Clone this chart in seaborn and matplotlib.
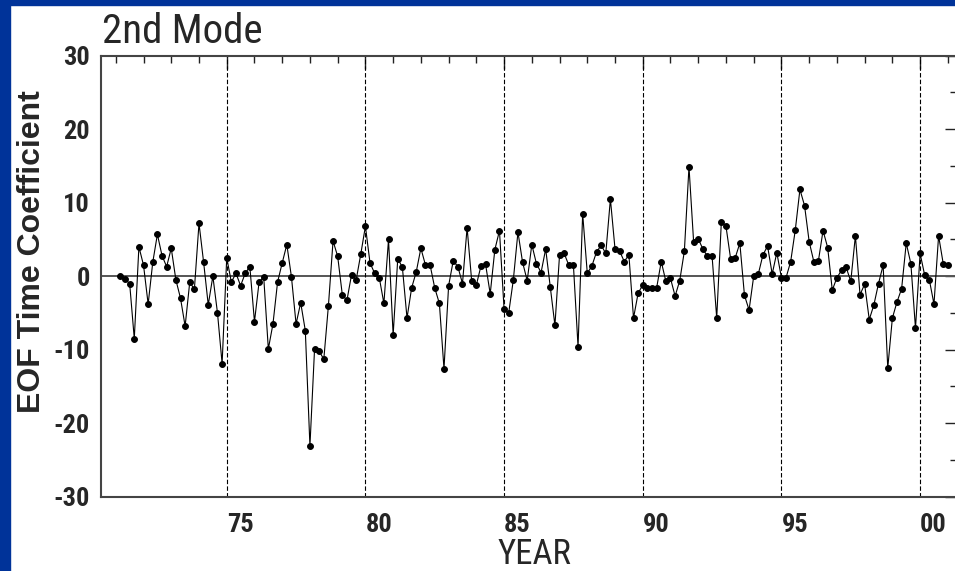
import numpy as np
import pandas as pd
import seaborn as sns
import matplotlib
matplotlib.use("Agg")
import matplotlib.pyplot as plt
from matplotlib import font_manager
from matplotlib.patches import Rectangle

# bimonthly EOF mode-2 time coefficients, Jan/Feb 1971 .. Nov/Dec 2000
coef = [
    0.0, -0.4, -1.0, -8.5, 4.0, 1.5, -3.8, 1.9, 5.7, 2.8, 1.3, 3.8,
    -0.5, -3.0, -6.8, -0.8, -1.8, 7.2, 1.9, -3.9, 0.0, -5.0, -11.9, 2.5,
    -0.8, 0.4, -1.3, 0.4, 1.3, -6.2, -0.8, -0.1, -9.9, -6.5, -0.8, 1.8,
    4.3, -0.1, -6.5, -3.6, -7.4, -23.1, -9.9, -10.2, -11.3, -4.0, 4.8, 2.7,
    -2.5, -3.3, 0.2, -0.5, 3.0, 6.8, 1.8, 0.4, -0.2, -3.7, 5.0, -8.0,
    2.4, 1.2, -5.7, -1.6, 0.6, 3.8, 1.5, 1.5, -1.6, -3.7, -12.6, -1.3,
    2.1, 1.3, -1.0, 6.6, -0.7, -1.2, 1.4, 1.6, -2.4, 3.6, 6.2, -4.5,
    -5.0, -0.5, 6.0, 1.9, -0.6, 4.3, 1.7, 0.5, 3.7, -1.5, -6.7, 2.9,
    3.1, 1.5, 1.5, -9.6, 8.5, 0.4, 1.4, 3.3, 4.2, 3.1, 10.5, 3.7,
    3.4, 2.0, 2.9, -5.7, -2.3, -1.2, -1.6, -1.6, -1.6, 2.0, -0.7, -0.3,
    -2.7, -0.6, 3.4, 14.9, 4.7, 5.1, 3.7, 2.7, 2.7, -5.7, 7.4, 6.8,
    2.4, 2.5, 4.5, -2.6, -4.6, 0.0, 0.3, 2.9, 4.1, 0.3, 3.2, -0.2,
    -0.2, 2.0, 6.3, 11.8, 9.6, 4.7, 2.0, 2.1, 6.2, 3.9, -1.9, -0.2,
    0.8, 1.2, -0.7, 5.5, -2.5, -1.1, -5.9, -3.9, -1.0, 1.5, -12.5, -5.7,
    -3.5, -1.7, 4.5, 1.7, -7.1, 3.1, 0.1, -0.5, -3.8, 5.5, 1.7, 1.5,
]
start_year = 1971
steps_per_year = 6
major_years = [1975, 1980, 1985, 1990, 1995, 2000]
major_labels = ["75", "80", "85", "90", "95", "00"]
y_ticks = [-30, -20, -10, 0, 10, 20, 30]

years = start_year + np.arange(1, len(coef) + 1) / steps_per_year
df = pd.DataFrame({"year": years, "coef": coef})

sns.set_style("white")

# look for a narrow / condensed sans face for the axis numbers
fonts = font_manager.fontManager.ttflist
narrow_family, narrow_stretch = "Liberation Sans", "normal"
for fam in ["Liberation Sans Narrow", "Roboto Condensed", "Open Sans Condensed"]:
    if any(f.name == fam for f in fonts):
        narrow_family = fam
        break
else:
    for fam in ["DejaVu Sans", "Noto Sans", "Roboto", "Open Sans"]:
        if any(f.name == fam and f.stretch in ("condensed", "semi-condensed") for f in fonts):
            narrow_family, narrow_stretch = fam, "condensed"
            break

plt.rcParams["font.family"] = [narrow_family, "DejaVu Sans"]
plt.rcParams["font.stretch"] = narrow_stretch

fig = plt.figure(figsize=(9.55, 5.71), dpi=100)
ax = fig.add_axes([100.7 / 955, 74.3 / 571, 856.3 / 955, 441 / 571])

# blue slide frame
fig.patches.append(Rectangle((0, 0), 10 / 955, 1, transform=fig.transFigure,
                             color="#003399", zorder=-1))
fig.patches.append(Rectangle((0, 1 - 5 / 571), 1, 5 / 571, transform=fig.transFigure,
                             color="#003399", zorder=-1))

ax.axhline(0, color="#555555", lw=1.4, zorder=1)
for yr in major_years:
    ax.axvline(yr, color="black", lw=0.8, ls=(0, (4, 2)), zorder=1)

sns.lineplot(data=df, x="year", y="coef", ax=ax, color="black", lw=0.8,
             marker="o", markersize=4.2, markeredgecolor="black", zorder=3)

ax.set_xlim(1970.456, 2001.33)
ax.set_ylim(-30, 30)
ax.set_xlabel("")
ax.set_ylabel("")

ax.set_xticks(major_years)
ax.set_xticklabels(major_labels, fontweight="bold", fontsize=19)
for lab in ax.get_xticklabels():
    lab.set_ha("left")
ax.set_xticks(np.arange(1971, 2002), minor=True)
ax.set_yticks(y_ticks)
ax.set_yticklabels([str(v) for v in y_ticks], fontweight="bold", fontsize=19)
ax.set_yticks(np.arange(-25, 30, 10), minor=True)

ax.tick_params(axis="x", which="major", direction="out", length=10, width=1,
               color="#222222", pad=2)
ax.tick_params(axis="x", which="minor", direction="inout", length=9.5, width=1,
               color="#222222")
ax.tick_params(axis="y", which="major", direction="in", length=9, width=1,
               color="#222222", pad=7.7, right=True)
ax.tick_params(axis="y", which="minor", direction="in", length=4.8, width=1,
               color="#222222", right=True)

top = ax.secondary_xaxis("top")
top.set_xticks(major_years)
top.set_xticks(np.arange(1971, 2002), minor=True)
top.tick_params(which="major", direction="in", length=9, width=1, color="#222222",
                labeltop=False)
top.tick_params(which="minor", direction="in", length=5, width=1, color="#222222")
top.spines["top"].set_visible(False)

for sp in ax.spines.values():
    sp.set_color("#444444")
    sp.set_linewidth(1.5)

fig.text(102 / 955, (571 - 43) / 571, "2nd Mode", fontsize=29.5,
         ha="left", va="baseline")
fig.text(32 / 955, 1 - 252 / 571, "EOF Time Coefficient", rotation=90,
         family=["Liberation Sans", "DejaVu Sans"], stretch="normal",
         fontweight="bold", fontsize=23, ha="center", va="center")
fig.text(534 / 955, 0.5 / 571, "YEAR", fontsize=25, ha="center", va="bottom")

fig.savefig("out.png", dpi=100)
